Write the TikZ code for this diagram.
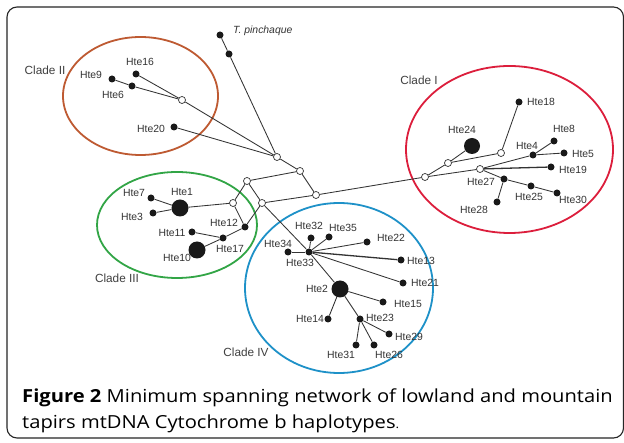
\documentclass[tikz,border=0pt]{standalone}
\usepackage{fontspec}
\setmainfont{Liberation Sans}
\newfontfamily\capfont[FakeStretch=1.12]{Open Sans}
\begin{document}
\begin{tikzpicture}[x=1pt,y=-1pt,
  hap/.style={circle, fill=black!90, inner sep=0pt, minimum size=7pt},
  bighap/.style={circle, fill=black!90, inner sep=0pt, minimum size=17pt},
  med/.style={circle, draw=black!80, fill=white, line width=0.7pt, inner sep=0pt, minimum size=7pt},
  lbl/.style={font=\fontsize{10.4}{12}\selectfont, text=black!80, inner sep=0pt},
  clade/.style={font=\fontsize{11.8}{13}\selectfont, text=black!75, inner sep=0pt},
  link/.style={draw=black!80, line width=0.85pt},
  dlink/.style={draw=black!80, line width=1.3pt},
  ring/.style={line width=1.8pt},
  capt/.style={font=\capfont\fontsize{18}{20}\selectfont, inner sep=0pt, anchor=west}]
\useasboundingbox (0,0) rectangle (624,443);
\fill[white] (0,0) rectangle (624,443);
\draw[black!85, line width=1.1pt, rounded corners=10pt] (7,7) rectangle (623.5,438);
% clade rings
\draw[ring, draw={rgb,255:red,190;green,90;blue,50}] (140.5,96) ellipse [x radius=77.5, y radius=59];
\draw[ring, draw={rgb,255:red,220;green,30;blue,60}] (509.5,149.5) ellipse [x radius=103.5, y radius=83.5];
\draw[ring, draw={rgb,255:red,50;green,165;blue,70}] (177,225) ellipse [x radius=80, y radius=53];
\draw[ring, draw={rgb,255:red,30;green,145;blue,200}] (339,288) ellipse [x radius=94, y radius=85];
% clade labels
\node[clade] (cII) at (45,70) {Clade II};
\node[clade] (cI) at (419,80) {Clade I};
\node[clade] (cIII) at (117,278) {Clade III};
\node[clade] (cIV) at (246,352) {Clade IV};
% haplotype nodes
\node[hap] (tp) at (220,35) {};
\node[hap] (tp2) at (229,54) {};
\node[hap] (h16) at (136,74) {};
\node[hap] (h9) at (112,79) {};
\node[hap] (h6) at (132,86) {};
\node[hap] (h20) at (174,127) {};
\node[med] (mB) at (182,100) {};
\node[med] (mA) at (277,157) {};
\node[med] (mC) at (300,171) {};
\node[med] (mD) at (316,195) {};
\node[med] (mE) at (247,181) {};
\node[med] (mF) at (233,203) {};
\node[med] (mG) at (262,203) {};
\node[bighap] (h1) at (180,208) {};
\node[hap] (h7) at (151,198) {};
\node[hap] (h3) at (153,213) {};
\node[hap] (h12) at (245,227) {};
\node[hap] (h17) at (223,238) {};
\node[hap] (h11) at (192,232) {};
\node[bighap] (h10) at (197,250) {};
% clade I
\node[med] (mH) at (425,177) {};
\node[med] (mI) at (448,163) {};
\node[med] (mJ) at (480,169) {};
\node[med] (mK) at (501,153) {};
\node[bighap, minimum size=16pt] (h24) at (472,146) {};
\node[hap] (h18) at (519,102) {};
\node[hap] (h4) at (533,155) {};
\node[hap] (h8) at (554,141) {};
\node[hap] (h5) at (564,153) {};
\node[hap] (h19) at (551,167) {};
\node[hap] (h27) at (504,179) {};
\node[hap] (h25) at (531,186) {};
\node[hap] (h30) at (557,193) {};
\node[hap] (h28) at (497,202) {};
% clade IV
\node[hap] (h33) at (309,252) {};
\node[hap] (h34) at (288,252) {};
\node[hap] (h32) at (311,238) {};
\node[hap] (h35) at (329,237) {};
\node[hap] (h22) at (367,242) {};
\node[hap] (h13) at (401,260) {};
\node[hap] (h21) at (403,283) {};
\node[bighap] (h2) at (340,289) {};
\node[hap] (h15) at (383,302) {};
\node[hap] (h14) at (328,319) {};
\node[hap] (h23) at (360,319) {};
\node[hap] (h29) at (389,334) {};
\node[hap] (h31) at (356,345) {};
\node[hap] (h26) at (374,345) {};
% connectors
\draw[link] (tp) -- (tp2) -- (mA);
\draw[link] (h16) -- (mB);
\draw[link] (h9) -- (h6) -- (mB);
\draw[link] (mB) -- (mA);
\draw[link] (h20) -- (mA);
\draw[link] (mA) -- (mC);
\draw[link] (mC) -- (mD);
\draw[link] (mC) -- (mE);
\draw[link] (mE) -- (mF);
\draw[link] (mE) -- (mG);
\draw[link] (mF) -- (h12);
\draw[link] (mG) -- (h12);
\draw[link] (mF) -- (h1);
\draw[link] (h1) -- (h7);
\draw[link] (h1) -- (h3);
\draw[link] (h12) -- (h17);
\draw[link] (h17) -- (h11);
\draw[link] (h17) -- (h10);
\draw[link] (mG) -- (mD);
\draw[link] (mG) -- (h33);
\draw[link] (mD) -- (mH);
\draw[link] (mH) -- (mI);
\draw[link] (mH) -- (mJ);
\draw[link] (mI) -- (mK);
\draw[link] (mI) -- (h24);
\draw[link] (mK) -- (h18);
\draw[link] (mJ) -- (h4);
\draw[link] (h4) -- (h8);
\draw[link] (h4) -- (h5);
\draw[dlink] (mJ) -- (h19);
\draw[link] (mJ) -- (h27);
\draw[link] (h27) -- (h28);
\draw[link] (h27) -- (h25) -- (h30);
\draw[link] (h33) -- (h34);
\draw[link] (h33) -- (h32);
\draw[link] (h33) -- (h35);
\draw[link] (h33) -- (h22);
\draw[dlink] (h33) -- (h13);
\draw[link] (h33) -- (h21);
\draw[link] (h33) -- (h2);
\draw[link] (h2) -- (h15);
\draw[link] (h2) -- (h14);
\draw[link] (h2) -- (h23);
\draw[link] (h23) -- (h29);
\draw[link] (h23) -- (h31);
\draw[link] (h23) -- (h26);
% labels
\node[lbl, anchor=west] (ltp) at (233,31) {\itshape T. pinchaque};
\node[lbl] (l16) at (140,62) {Hte16};
\node[lbl] (l9) at (91,75) {Hte9};
\node[lbl] (l6) at (113,95) {Hte6};
\node[lbl] (l20) at (151,129) {Hte20};
\node[lbl] (l18) at (541,102) {Hte18};
\node[lbl] (l24) at (462,130) {Hte24};
\node[lbl] (l8) at (564,129) {Hte8};
\node[lbl] (l4) at (527,146) {Hte4};
\node[lbl] (l5) at (583,154) {Hte5};
\node[lbl] (l19) at (573,170) {Hte19};
\node[lbl] (l27) at (481,182) {Hte27};
\node[lbl] (l25) at (529,197) {Hte25};
\node[lbl] (l30) at (573,200) {Hte30};
\node[lbl] (l28) at (474,210) {Hte28};
\node[lbl] (l7) at (134,193) {Hte7};
\node[lbl] (l1) at (182,192) {Hte1};
\node[lbl] (l3) at (132,217) {Hte3};
\node[lbl] (l12) at (224,223) {Hte12};
\node[lbl] (l11) at (172,233) {Hte11};
\node[lbl] (l17) at (230,249) {Hte17};
\node[lbl] (l10) at (177,258) {Hte10};
\node[lbl] (l34) at (278,244) {Hte34};
\node[lbl] (l32) at (309,226) {Hte32};
\node[lbl] (l35) at (343,228) {Hte35};
\node[lbl] (l22) at (391,238) {Hte22};
\node[lbl] (l33) at (300,263) {Hte33};
\node[lbl] (l13) at (421,261) {Hte13};
\node[lbl] (l21) at (425,283) {Hte21};
\node[lbl] (l2) at (317,289) {Hte2};
\node[lbl] (l15) at (408,304) {Hte15};
\node[lbl] (l14) at (310,319) {Hte14};
\node[lbl] (l23) at (380,318) {Hte23};
\node[lbl] (l29) at (409,337) {Hte29};
\node[lbl] (l31) at (341,355) {Hte31};
\node[lbl] (l26) at (389,355) {Hte26};
% caption
\node[capt] (cap1) at (22,398) {\textbf{Figure 2} Minimum spanning network of lowland and mountain};
\node[capt] (cap2) at (22,424) {tapirs mtDNA Cytochrome b haplotypes\fontsize{12}{14}\selectfont.};
\end{tikzpicture}
\end{document}
